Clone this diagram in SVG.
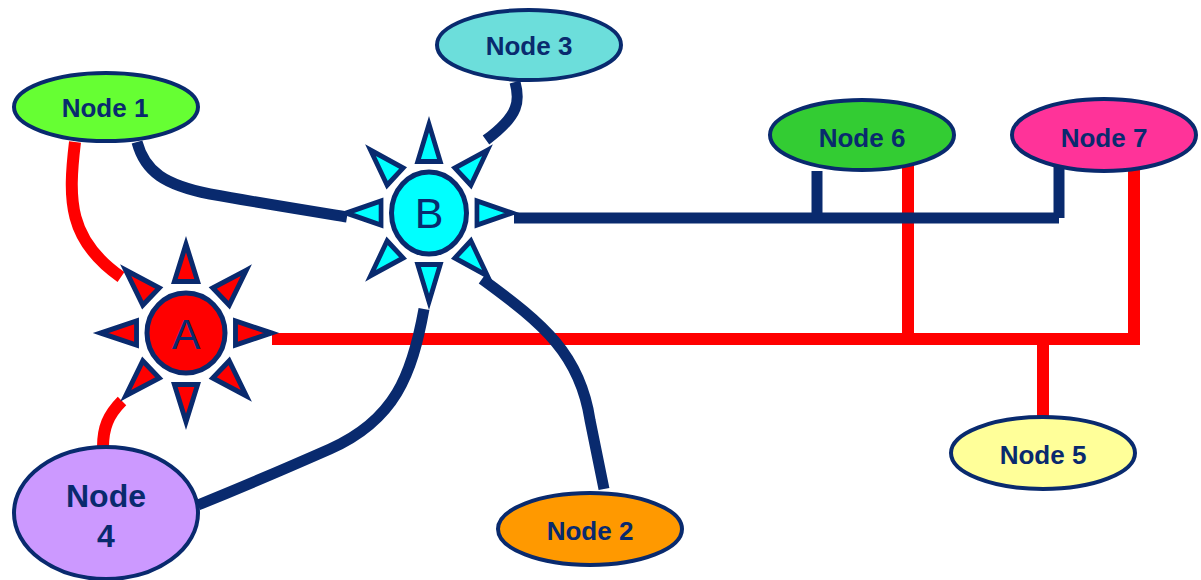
<svg xmlns="http://www.w3.org/2000/svg" xmlns:xlink="http://www.w3.org/1999/xlink" width="1201" height="580" viewBox="0 0 1201 580">
<style>
.node{stroke:#092A6E;stroke-width:4}
.lbl{font-family:"Liberation Sans",Arial,sans-serif;font-weight:bold;font-size:26px;fill:#092A6E;text-anchor:middle}
.big{font-size:32px}
.hub{font-family:"Liberation Sans",Arial,sans-serif;font-size:43px;fill:#092A6E;text-anchor:middle}
.navy{fill:none;stroke:#092A6E;stroke-width:11}
.red{fill:none;stroke:#FF0000;stroke-width:12}
.core{stroke:#092A6E;stroke-width:5}
</style>
<defs>
<g id="rays" stroke="#092A6E" stroke-width="5" stroke-linejoin="miter">
<polygon points="0,-88 -12,-51 12,-51"/>
<polygon points="0,-88 -12,-51 12,-51" transform="rotate(45)"/>
<polygon points="0,-88 -12,-51 12,-51" transform="rotate(90)"/>
<polygon points="0,-88 -12,-51 12,-51" transform="rotate(135)"/>
<polygon points="0,-88 -12,-51 12,-51" transform="rotate(180)"/>
<polygon points="0,-88 -12,-51 12,-51" transform="rotate(225)"/>
<polygon points="0,-88 -12,-51 12,-51" transform="rotate(270)"/>
<polygon points="0,-88 -12,-51 12,-51" transform="rotate(315)"/>
</g>
</defs>
<rect width="1201" height="580" fill="#FFFFFF"/>
<g id="connectors">
<path class="red" d="M75,142 C68,200 68,240 121,277"/>
<path class="red" d="M122,401 C108,415 103,428 103,447"/>
<path class="red" d="M272,339 H1140"/>
<path class="red" d="M908,166 V339"/>
<path class="red" d="M1134,169 V339"/>
<path class="red" d="M1043,339 V418"/>
<path class="navy" d="M137,142 C145,172 165,185 210,194 C260,203 310,211 347,217"/>
<path class="navy" d="M515,82 C520,100 520,115 486,140"/>
<path class="navy" d="M514,218 H1059"/>
<path class="navy" d="M817,171 V218"/>
<path class="navy" d="M1059,166 V218"/>
<path class="navy" d="M424,309 C412,375 395,420 330,449 C280,471 240,488 198,505"/>
<path class="navy" d="M482,279 C545,325 580,355 590,420 L604,489"/>
</g>
<g id="hubA">
<use xlink:href="#rays" href="#rays" fill="#FF0000" transform="translate(186,333) scale(0.97,1.01)"/>
<ellipse class="core" cx="186" cy="333" rx="39" ry="40" fill="#FF0000"/>
<text class="hub" x="186" y="349">A</text>
</g>
<g id="hubB">
<use xlink:href="#rays" href="#rays" fill="#00FFFF" transform="translate(429,213) scale(0.94,1.01)"/>
<ellipse class="core" cx="429" cy="213" rx="37.5" ry="41" fill="#00FFFF"/>
<text class="hub" x="429" y="228">B</text>
</g>
<g id="node1">
<ellipse class="node" cx="106" cy="107" rx="92" ry="34" fill="#66FF33"/>
<text class="lbl" x="105" y="117">Node 1</text>
</g>
<g id="node3">
<ellipse class="node" cx="529" cy="45" rx="92" ry="35" fill="#6CDEDB"/>
<text class="lbl" x="529" y="55">Node 3</text>
</g>
<g id="node6">
<ellipse class="node" cx="862" cy="135" rx="92" ry="35" fill="#33CC33"/>
<text class="lbl" x="862" y="147">Node 6</text>
</g>
<g id="node7">
<ellipse class="node" cx="1104" cy="135" rx="92" ry="36" fill="#FF3399"/>
<text class="lbl" x="1104" y="147">Node 7</text>
</g>
<g id="node5">
<ellipse class="node" cx="1043" cy="453" rx="92" ry="36" fill="#FFFF99"/>
<text class="lbl" x="1043" y="464">Node 5</text>
</g>
<g id="node2">
<ellipse class="node" cx="590" cy="529" rx="92" ry="36" fill="#FF9900"/>
<text class="lbl" x="590" y="540">Node 2</text>
</g>
<g id="node4">
<ellipse class="node" cx="106" cy="513" rx="92" ry="66" fill="#CC99FF"/>
<text class="lbl big" x="106" y="507">Node</text>
<text class="lbl big" x="106" y="547">4</text>
</g>
</svg>
